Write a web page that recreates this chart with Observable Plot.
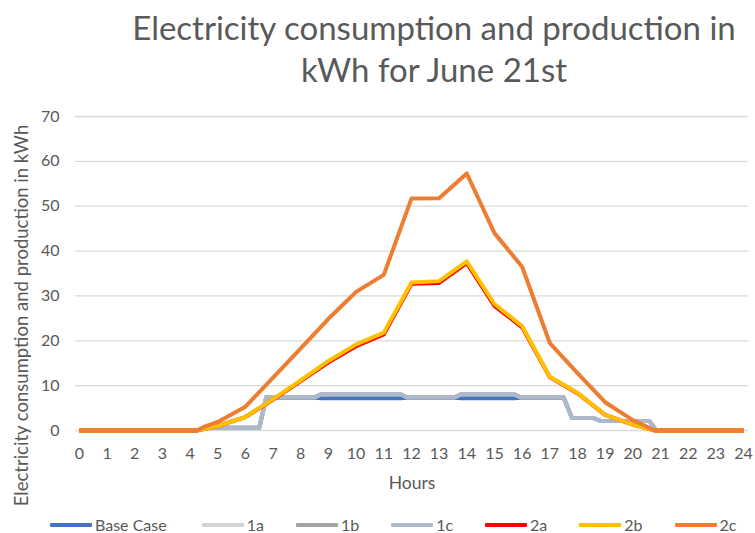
<!DOCTYPE html>
<html>
<head>
<meta charset="utf-8">
<script src="https://cdn.jsdelivr.net/npm/d3@7"></script>
<script src="https://cdn.jsdelivr.net/npm/@observablehq/plot@0.6"></script>
<style>
  body { margin: 0; background: #fff; font-family: Lato, "Open Sans", sans-serif; color: #595959; }
  #wrap { width: 755px; height: 533px; position: relative; overflow: hidden; }
  #title { height: 96px; box-sizing: border-box; padding-top: 6px; padding-left: 113px; text-align: center; font-size: 33px; line-height: 42px; color: #595959; }
  #legend { display: flex; align-items: center; gap: 32px; padding-left: 50px; height: 23px; margin-top: 3px; font-size: 16px; color: #595959; }
  .item { display: flex; align-items: center; gap: 3px; }
  .item:first-child { margin-right: 3px; }
  .sw { width: 42px; height: 4px; border-radius: 1px; }
</style>
</head>
<body>
<div id="wrap">
  <div id="title">Electricity consumption and production in<br>kWh for June 21st</div>
  <div id="chart"></div>
  <div id="legend"></div>
</div>
<script>
// ---- data ----
const seriesNames = ["Base Case", "1a", "1b", "1c", "2a", "2b", "2c"];
const seriesColors = ["#4472C4", "#D3D3D3", "#A5A5A5", "#ADB9CA", "#FF0000", "#FFC000", "#ED7D31"];

const hoursConsumption = [0, 4.25, 4.5, 6.5, 6.75, 8.5, 8.75, 11.6, 11.85, 13.55, 13.8, 15.7, 15.95, 17.5, 17.8, 18.55, 18.85, 20.6, 20.85, 24];
const valuesBase = [0, 0, 0.6, 0.6, 7.3, 7.3, 7.2, 7.2, 7.3, 7.3, 7.2, 7.2, 7.3, 7.3, 2.8, 2.8, 2.1, 2.1, 0, 0];
const values1a   = [0, 0, 0.6, 0.6, 7.4, 7.4, 8.1, 8.1, 7.4, 7.4, 8.1, 8.1, 7.4, 7.4, 2.8, 2.8, 2.1, 2.1, 0, 0];
const values1b   = [0, 0, 0.6, 0.6, 7.4, 7.4, 8.1, 8.1, 7.4, 7.4, 8.1, 8.1, 7.4, 7.4, 2.8, 2.8, 2.1, 2.1, 0, 0];
const values1c   = [0, 0, 0.6, 0.6, 7.4, 7.4, 8.1, 8.1, 7.4, 7.4, 8.1, 8.1, 7.4, 7.4, 2.8, 2.8, 2.1, 2.1, 0, 0];

const hoursProduction = [0, 4.25, 4.5, 5, 6, 7, 8, 9, 10, 11, 12, 13, 14, 15, 16, 17, 18, 19, 20, 20.8, 24];
const values2a = [0, 0, 0.3, 1.0, 3.0, 6.9, 11.0, 15.2, 18.8, 21.4, 32.7, 32.9, 37.3, 27.8, 23.0, 11.9, 8.3, 3.5, 1.3, 0, 0];
const values2b = [0, 0, 0.3, 1.0, 3.0, 7.0, 11.2, 15.5, 19.2, 21.8, 33.0, 33.3, 37.7, 28.2, 23.3, 12.0, 8.4, 3.5, 1.3, 0, 0];
const values2c = [0, 0, 0.8, 1.9, 5.3, 11.8, 18.3, 24.9, 30.9, 34.7, 51.7, 51.8, 57.3, 44.0, 36.5, 19.5, 12.8, 6.3, 2.3, 0, 0];

const hourTicks = d3.range(0, 25);
const yTicks = [0, 10, 20, 30, 40, 50, 60, 70];
const titleY = "Electricity consumption and production in kWh";
const titleX = "Hours";

// ---- build table ----
const seriesData = [
  [seriesNames[0], hoursConsumption, valuesBase],
  [seriesNames[1], hoursConsumption, values1a],
  [seriesNames[2], hoursConsumption, values1b],
  [seriesNames[3], hoursConsumption, values1c],
  [seriesNames[4], hoursProduction, values2a],
  [seriesNames[5], hoursProduction, values2b],
  [seriesNames[6], hoursProduction, values2c]
];
const rows = seriesData.flatMap(([name, hs, vs]) => hs.map((h, i) => ({series: name, hour: h, value: vs[i]})));

const chart = Plot.plot({
  width: 755,
  height: 414,
  marginLeft: 75,
  marginRight: 7,
  marginTop: 20,
  marginBottom: 80,
  style: {fontFamily: "Lato, 'Open Sans', sans-serif", fontSize: "16px", color: "#595959", background: "white", overflow: "visible"},
  x: {domain: [-0.14, 24.18], label: null},
  y: {domain: [0, 70], label: null},
  color: {domain: seriesNames, range: seriesColors},
  marks: [
    Plot.gridY(yTicks, {stroke: "#D9D9D9", strokeOpacity: 1, strokeWidth: 1.3}),
    Plot.axisY(yTicks, {tickSize: 0, tickPadding: 16, label: null, fill: "#595959", fontSize: 16}),
    Plot.axisX(hourTicks, {tickSize: 0, tickPadding: 17, label: null, tickFormat: d => d, fill: "#595959", fontSize: 16}),
    Plot.line(rows, {x: "hour", y: "value", z: "series", stroke: "series", strokeWidth: 4, strokeLinejoin: "round", strokeLinecap: "butt"}),
    Plot.text([titleX], {frameAnchor: "bottom", dy: 53, fontSize: 17.5, fill: "#595959", lineAnchor: "middle"}),
    Plot.text([titleY], {frameAnchor: "left", dx: -53, dy: 42, rotate: -90, fontSize: 18.5, fill: "#595959", lineAnchor: "middle", textAnchor: "middle"})
  ]
});
document.getElementById("chart").appendChild(chart);

// ---- legend ----
const legend = d3.select("#legend");
seriesNames.forEach((name, i) => {
  const it = legend.append("div").attr("class", "item");
  it.append("div").attr("class", "sw").style("background", seriesColors[i]);
  it.append("span").text(name);
});
</script>
</body>
</html>
